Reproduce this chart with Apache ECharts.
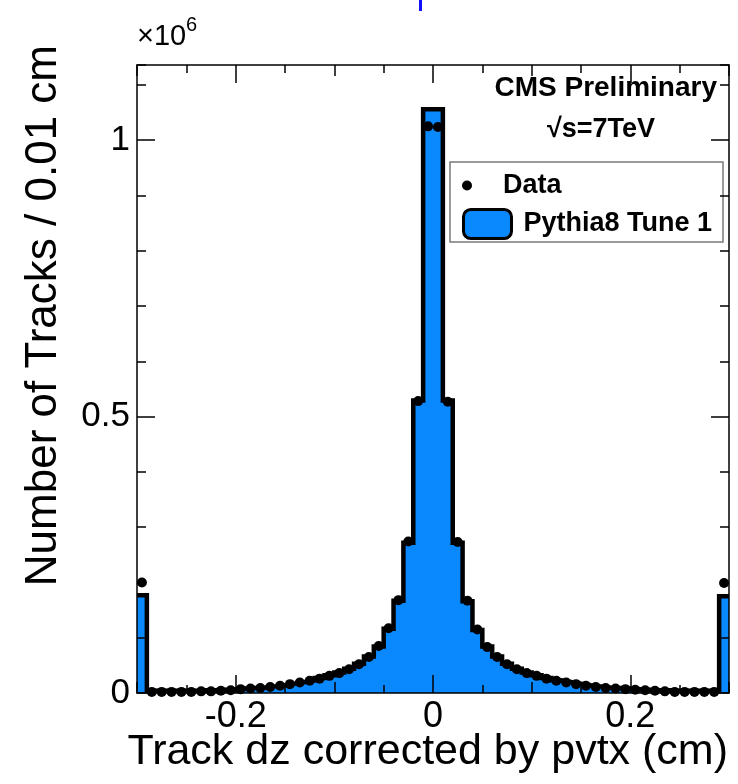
<!DOCTYPE html>
<html>
<head>
    <meta charset="utf-8">
    <title>Track dz</title>
    <script src="https://cdn.jsdelivr.net/npm/echarts@6/dist/echarts.min.js"></script>
    <style type="text/css">
        html, body { margin: 0; padding: 0; background: #fff; }
        #chart { width: 738px; height: 784px; }
    </style>
</head>
<body>
<div id="chart"></div>
<script type="text/javascript">
    // binning: 60 bins of 0.01 cm between -0.3 and 0.3
    var xMin = -0.3;
    var xMax = 0.3;
    var binWidth = 0.01;

    // Pythia8 Tune 1 (units of 10^6 tracks)
    var mcCounts = [
        0.177, 0.004, 0.004, 0.004, 0.004, 0.004, 0.005, 0.005, 0.006, 0.007,
        0.008, 0.009, 0.010, 0.012, 0.014, 0.017, 0.020, 0.023, 0.027, 0.032,
        0.037, 0.044, 0.053, 0.066, 0.084, 0.116, 0.167, 0.272, 0.529, 1.056,
        1.056, 0.529, 0.272, 0.166, 0.114, 0.084, 0.066, 0.053, 0.044, 0.037,
        0.032, 0.027, 0.023, 0.020, 0.017, 0.014, 0.012, 0.010, 0.009, 0.008,
        0.007, 0.006, 0.005, 0.005, 0.004, 0.004, 0.004, 0.004, 0.004, 0.175
    ];

    // Data (units of 10^6 tracks)
    var dataCounts = [
        0.200, 0.002, 0.002, 0.002, 0.002, 0.002, 0.003, 0.003, 0.004, 0.005,
        0.007, 0.008, 0.009, 0.011, 0.013, 0.016, 0.019, 0.022, 0.026, 0.031,
        0.036, 0.043, 0.052, 0.065, 0.085, 0.117, 0.168, 0.274, 0.528, 1.025,
        1.024, 0.527, 0.273, 0.167, 0.115, 0.083, 0.065, 0.052, 0.043, 0.036,
        0.031, 0.026, 0.022, 0.019, 0.016, 0.013, 0.011, 0.009, 0.008, 0.007,
        0.006, 0.005, 0.004, 0.003, 0.002, 0.002, 0.002, 0.002, 0.002, 0.199
    ];

    var xLabelValues = [-0.2, 0, 0.2];
    var yLabelValues = [0, 0.5, 1];
    var yMax = 1.136;

    var fillBlue = '#0a89ff';
    var font = 'Liberation Sans';

    var lowEdges = mcCounts.map(function (v, i) { return +(xMin + i * binWidth).toFixed(3); });
    var mcSteps = lowEdges.map(function (e, i) { return [e, mcCounts[i]]; });
    mcSteps.push([xMax, mcCounts[mcCounts.length - 1]]);
    var dataPoints = lowEdges.map(function (e, i) { return [+(e + binWidth / 2).toFixed(3), dataCounts[i]]; });

    function fmt(v) {
        return Math.abs(v) < 1e-9 ? '0' : String(+v.toFixed(2));
    }

    // x axes: [0] bottom short ticks+labels, [1] bottom long ticks, [2] top short, [3] top long
    function xAxisDef(pos, longTicks, labels) {
        return {
            type: 'value', position: pos, min: xMin, max: xMax, interval: 0.1, z: 5,
            axisLine: { show: !longTicks, onZero: false, lineStyle: { color: '#000', width: 1.5 } },
            axisTick: longTicks
                ? { show: true, inside: true, length: 18, customValues: xLabelValues, lineStyle: { color: '#000', width: 1.5 } }
                : { show: true, inside: true, length: 11, lineStyle: { color: '#000', width: 1.5 } },
            minorTick: { show: !longTicks, splitNumber: 2, length: 8, lineStyle: { color: '#000', width: 1.5 } },
            axisLabel: labels
                ? { show: true, customValues: xLabelValues, formatter: fmt, margin: 6, fontSize: 36, fontFamily: font, color: '#000' }
                : { show: false },
            splitLine: { show: false }
        };
    }

    function yAxisDef(pos, longTicks, labels) {
        return {
            type: 'value', position: pos, min: 0, max: yMax, interval: 0.1, z: 5,
            axisLine: { show: !longTicks, onZero: false, lineStyle: { color: '#000', width: 1.5 } },
            axisTick: longTicks
                ? { show: true, inside: true, length: 18, customValues: yLabelValues, lineStyle: { color: '#000', width: 1.5 } }
                : { show: true, inside: true, length: 9, lineStyle: { color: '#000', width: 1.5 } },
            axisLabel: labels
                ? { show: true, customValues: yLabelValues, formatter: fmt, margin: 7, fontSize: 35, fontFamily: font, color: '#000' }
                : { show: false },
            splitLine: { show: false }
        };
    }

    var chart = echarts.init(document.getElementById('chart'), null, { renderer: 'canvas' });

    var option = {
        animation: false,
        backgroundColor: '#fff',
        grid: { left: 137, right: 9, top: 65, bottom: 91, containLabel: false },
        xAxis: [
            xAxisDef('bottom', false, true),
            xAxisDef('bottom', true, false),
            xAxisDef('top', false, false),
            xAxisDef('top', true, false)
        ],
        yAxis: [
            yAxisDef('left', false, true),
            yAxisDef('left', true, false),
            yAxisDef('right', false, false),
            yAxisDef('right', true, false)
        ],
        legend: [
            {
                data: [{ name: 'Data', icon: 'circle', itemStyle: { color: '#000', opacity: 1 } }],
                left: 462, top: 172, padding: 0, itemWidth: 48, itemHeight: 10,
                selectedMode: false,
                textStyle: { fontSize: 27, fontWeight: 'bold', fontFamily: font, color: '#000', padding: [0, 0, 0, 7] }
            },
            {
                data: [{ name: 'Pythia8 Tune 1', icon: 'roundRect', itemStyle: { color: fillBlue, borderColor: '#000', borderWidth: 3 } }],
                left: 462, top: 208, padding: 0, itemWidth: 48, itemHeight: 29,
                selectedMode: false,
                textStyle: { fontSize: 27, fontWeight: 'bold', fontFamily: font, color: '#000', padding: [0, 0, 0, 7] }
            }
        ],
        series: [
            {
                name: 'Pythia8 Tune 1',
                type: 'line',
                step: 'end',
                data: mcSteps,
                xAxisIndex: 0, yAxisIndex: 0,
                symbol: 'none',
                color: fillBlue,
                lineStyle: { color: '#000', width: 4.5, join: 'miter' },
                areaStyle: { color: fillBlue, opacity: 1, origin: 'start' },
                z: 2
            },
            {
                name: 'Data',
                type: 'scatter',
                data: dataPoints,
                xAxisIndex: 0, yAxisIndex: 0,
                symbol: 'circle',
                symbolSize: 10,
                itemStyle: { color: '#000', opacity: 1 },
                z: 3
            }
        ],
        graphic: [
            { type: 'rect', left: 419, top: 0, shape: { width: 3, height: 11 }, style: { fill: '#1010ff' } },
            { type: 'text', x: 137, y: 51, style: { text: '×10', font: '29px "' + font + '"', fill: '#000', align: 'left', verticalAlign: 'bottom' } },
            { type: 'text', x: 186, y: 35, style: { text: '6', font: '20px "' + font + '"', fill: '#000', align: 'left', verticalAlign: 'bottom' } },
            { type: 'text', x: 717, y: 88, style: { text: 'CMS Preliminary', font: 'bold 28px "' + font + '"', fill: '#000', align: 'right', verticalAlign: 'middle' } },
            { type: 'text', x: 601, y: 130, style: { text: '√s=7TeV', font: 'bold 27px "' + font + '"', fill: '#000', align: 'center', verticalAlign: 'middle' } },
            { type: 'rect', x: 450, y: 162, shape: { width: 273, height: 80 }, style: { fill: 'none', stroke: '#7a7a7a', lineWidth: 1.5 }, z: 1 },
            { type: 'text', x: 728, y: 752, style: { text: 'Track dz corrected by pvtx (cm)', font: '43px "' + font + '"', fill: '#000', align: 'right', verticalAlign: 'middle' } },
            { type: 'text', x: 44, y: 45, rotation: Math.PI / 2, style: { text: 'Number of Tracks / 0.01 cm', font: '44px "' + font + '"', fill: '#000', align: 'right', verticalAlign: 'middle' } }
        ]
    };

    chart.setOption(option);
</script>
</body>
</html>
